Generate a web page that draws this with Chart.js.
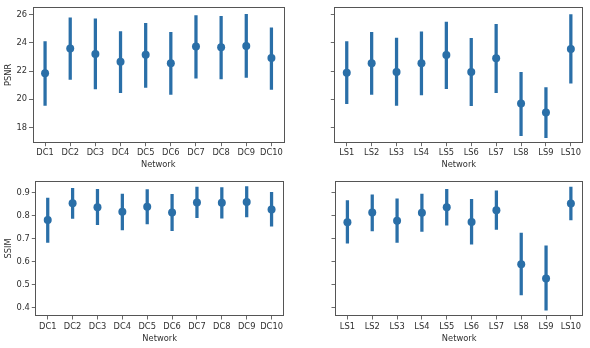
<!DOCTYPE html>
<html>
<head>
<meta charset="utf-8">
<script src="https://cdn.jsdelivr.net/npm/chart.js@4.4.1/dist/chart.umd.min.js"></script>
<style>
  html, body { margin: 0; padding: 0; background: #fff; }
  #wrap { position: relative; width: 590px; height: 348px; overflow: hidden; }
  .panel { position: absolute; }
</style>
</head>
<body>
<div id="wrap">
  <div class="panel" style="left:0;top:0;width:290px;height:174px"><canvas id="c1"></canvas></div>
  <div class="panel" style="left:295px;top:0;width:295px;height:174px"><canvas id="c2"></canvas></div>
  <div class="panel" style="left:0;top:174px;width:290px;height:174px"><canvas id="c3"></canvas></div>
  <div class="panel" style="left:295px;top:174px;width:295px;height:174px"><canvas id="c4"></canvas></div>
</div>
<script>
// ---- data ----
const categoriesDC = ['DC1','DC2','DC3','DC4','DC5','DC6','DC7','DC8','DC9','DC10'];
const categoriesLS = ['LS1','LS2','LS3','LS4','LS5','LS6','LS7','LS8','LS9','LS10'];

const psnrDCMean = [21.84, 23.60, 23.20, 22.65, 23.16, 22.55, 23.73, 23.69, 23.78, 22.92];
const psnrDCLow  = [19.57, 21.40, 20.73, 20.47, 20.84, 20.34, 21.49, 21.44, 21.54, 20.70];
const psnrDCHigh = [24.08, 25.77, 25.70, 24.80, 25.38, 24.75, 25.93, 25.88, 26.02, 25.07];

const psnrLSMean = [21.88, 22.55, 21.93, 22.55, 23.13, 21.93, 22.90, 19.69, 19.06, 23.57];
const psnrLSLow  = [19.69, 20.34, 19.57, 20.31, 20.75, 19.55, 20.47, 17.42, 17.28, 21.14];
const psnrLSHigh = [24.08, 24.75, 24.34, 24.78, 25.47, 24.31, 25.31, 21.91, 20.82, 26.00];

const ssimDCMean = [0.781, 0.853, 0.836, 0.816, 0.838, 0.813, 0.857, 0.856, 0.859, 0.826];
const ssimDCLow  = [0.683, 0.788, 0.760, 0.738, 0.764, 0.734, 0.791, 0.789, 0.794, 0.754];
const ssimDCHigh = [0.876, 0.918, 0.914, 0.893, 0.913, 0.892, 0.924, 0.921, 0.926, 0.901];

const ssimLSMean = [0.771, 0.813, 0.777, 0.812, 0.836, 0.772, 0.823, 0.589, 0.527, 0.852];
const ssimLSLow  = [0.680, 0.733, 0.683, 0.731, 0.758, 0.676, 0.740, 0.455, 0.389, 0.781];
const ssimLSHigh = [0.865, 0.890, 0.872, 0.893, 0.914, 0.870, 0.907, 0.724, 0.669, 0.923];

const psnrTicks = [18, 20, 22, 24, 26];
const ssimTicks = [0.4, 0.5, 0.6, 0.7, 0.8, 0.9];

// ---- style ----
const COLOR = '#2a6fa8';
const TEXT = '#303030';
const FONT = "'DejaVu Sans', sans-serif";
const FS = 8.3;

const framePlugin = {
  id: 'frame',
  afterDraw(chart) {
    const a = chart.chartArea, ctx = chart.ctx;
    ctx.save();
    ctx.strokeStyle = '#555';
    ctx.lineWidth = 1;
    ctx.strokeRect(Math.round(a.left) + 0.5, Math.round(a.top) + 0.5,
                   Math.round(a.right - a.left) - 1, Math.round(a.bottom - a.top) - 1);
    ctx.restore();
  }
};

function makeChart(id, labels, mean, lo, hi, opt) {
  new Chart(document.getElementById(id), {
    type: 'bar',
    data: {
      labels: labels,
      datasets: [
        {
          type: 'line',
          data: mean,
          showLine: false,
          pointRadius: 4,
          pointHoverRadius: 4,
          pointBackgroundColor: COLOR,
          pointBorderColor: COLOR,
          pointBorderWidth: 0,
          order: 0
        },
        {
          type: 'bar',
          data: lo.map((l, i) => [l, hi[i]]),
          backgroundColor: COLOR,
          borderWidth: 0,
          barThickness: 2.6,
          order: 1
        }
      ]
    },
    options: {
      responsive: true,
      maintainAspectRatio: false,
      devicePixelRatio: 1,
      animation: false,
      events: [],
      layout: { padding: { top: opt.padTop, right: opt.padRight, left: 0, bottom: 0 } },
      plugins: { legend: { display: false }, tooltip: { enabled: false } },
      scales: {
        x: {
          type: 'category',
          offset: true,
          border: { display: false },
          grid: { display: true, drawOnChartArea: false, drawTicks: true, tickLength: 3.5, color: '#444', lineWidth: 0.8, offset: false },
          ticks: { color: TEXT, font: { family: FONT, size: FS }, padding: 2, maxRotation: 0, autoSkip: false },
          title: { display: true, text: 'Network', color: TEXT, font: { family: FONT, size: FS }, padding: { top: 0, bottom: 4 } },
          afterFit(scale) { scale.height = opt.xHeight; }
        },
        y: {
          type: 'linear',
          min: opt.yMin,
          max: opt.yMax,
          border: { display: false },
          grid: { display: true, drawOnChartArea: false, drawTicks: true, tickLength: 3.5, color: '#444', lineWidth: 0.8 },
          ticks: {
            color: TEXT, font: { family: FONT, size: FS }, padding: 2,
            callback: (v) => opt.showLabels ? (opt.digits ? Number(v).toFixed(opt.digits) : String(v)) : ''
          },
          afterBuildTicks(scale) { scale.ticks = opt.ticks.map(v => ({ value: v })); },
          title: { display: opt.showLabels, text: opt.yTitle, color: TEXT, font: { family: FONT, size: FS }, padding: { top: 4, bottom: 0 } },
          afterFit(scale) { scale.width = opt.yWidth; }
        }
      }
    },
    plugins: [framePlugin]
  });
}

makeChart('c1', categoriesDC, psnrDCMean, psnrDCLow, psnrDCHigh,
  { yMin: 16.92, yMax: 26.54, ticks: psnrTicks, yTitle: 'PSNR', showLabels: true, digits: 0,
    yWidth: 32.5, xHeight: 31.3, padTop: 5, padRight: 6 });
makeChart('c2', categoriesLS, psnrLSMean, psnrLSLow, psnrLSHigh,
  { yMin: 16.92, yMax: 26.54, ticks: psnrTicks, yTitle: 'PSNR', showLabels: false, digits: 0,
    yWidth: 39.3, xHeight: 31.3, padTop: 5, padRight: 6.7 });
makeChart('c3', categoriesDC, ssimDCMean, ssimDCLow, ssimDCHigh,
  { yMin: 0.364, yMax: 0.95, ticks: ssimTicks, yTitle: 'SSIM', showLabels: true, digits: 1,
    yWidth: 35.3, xHeight: 32, padTop: 5, padRight: 6 });
makeChart('c4', categoriesLS, ssimLSMean, ssimLSLow, ssimLSHigh,
  { yMin: 0.364, yMax: 0.95, ticks: ssimTicks, yTitle: 'SSIM', showLabels: false, digits: 1,
    yWidth: 40, xHeight: 32, padTop: 5, padRight: 6.7 });
</script>
</body>
</html>
